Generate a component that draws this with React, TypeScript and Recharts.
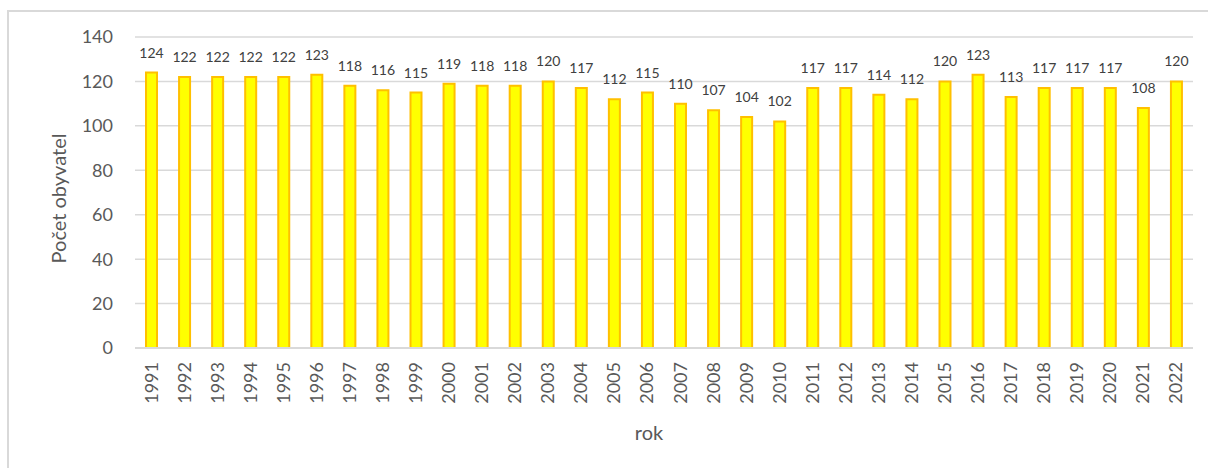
import React from 'react';
import { BarChart, Bar, XAxis, YAxis, CartesianGrid, LabelList, Label } from 'recharts';

const years = ['1991','1992','1993','1994','1995','1996','1997','1998','1999','2000','2001','2002','2003','2004','2005','2006','2007','2008','2009','2010','2011','2012','2013','2014','2015','2016','2017','2018','2019','2020','2021','2022'];
const population = [124,122,122,122,122,123,118,116,115,119,118,118,120,117,112,115,110,107,104,102,117,117,114,112,120,123,113,117,117,117,108,120];
const yTicks = [0, 20, 40, 60, 80, 100, 120, 140];
const yTitle = 'Počet obyvatel';
const xTitle = 'rok';

const data = years.map((y, i) => ({ year: y, value: population[i] }));

const FONT = 'Lato, "Open Sans", sans-serif';

const XTick = (props: any) => {
  const { x, y, payload } = props;
  return (
    <g transform={`translate(${x},${y + 6})`}>
      <text transform="rotate(-90)" textAnchor="end" dy={6} fill="#595959" fontSize={18} fontFamily={FONT}>
        {payload.value}
      </text>
    </g>
  );
};

export default function App() {
  return (
    <div style={{ position: 'relative', width: 1208, height: 468, background: '#fff', overflow: 'hidden' }}>
      <style>{`html,body{margin:0;padding:0;overflow:hidden;background:#fff}`}</style>
      <div style={{ position: 'absolute', left: 7, top: 10, width: 2, height: 458, background: '#d9d9d9' }} />
      <div style={{ position: 'absolute', left: 7, top: 10, width: 1201, height: 2, background: '#d9d9d9' }} />
      <div style={{ position: 'absolute', left: 0, top: 0 }}>
        <BarChart width={1208} height={468} data={data} margin={{ top: 37, right: 15, left: 0, bottom: 0 }} barCategoryGap={0}>
          <CartesianGrid vertical={false} stroke="#d9d9d9" strokeWidth={1.5} />
          <XAxis dataKey="year" interval={0} height={120} tickLine={false} axisLine={{ stroke: '#d9d9d9', strokeWidth: 2 }} tick={<XTick />}>
            <Label content={({ viewBox }: any) => (
              <text x={viewBox.x + viewBox.width / 2 - 15} y={viewBox.y + 92} textAnchor="middle" fill="#595959" fontSize={20} fontFamily={FONT}>{xTitle}</text>
            )} />
          </XAxis>
          <YAxis width={135} domain={[0, 140]} ticks={yTicks} tickLine={false} axisLine={false} tickMargin={16} tick={{ fill: '#595959', fontSize: 18, fontFamily: FONT }}>
            <Label content={({ viewBox }: any) => {
              const cx = 58;
              const cy = viewBox.y + viewBox.height / 2 + 6;
              return (
                <text x={cx} y={cy} transform={`rotate(-90, ${cx}, ${cy})`} textAnchor="middle" dominantBaseline="central" fill="#595959" fontSize={20} fontFamily={FONT}>{yTitle}</text>
              );
            }} />
          </YAxis>
          <Bar dataKey="value" barSize={11} fill="#FFFF00" stroke="#FFC000" strokeWidth={2} isAnimationActive={false}>
            <LabelList dataKey="value" position="top" offset={15} fill="#404040" fontSize={14} fontFamily={FONT} />
          </Bar>
        </BarChart>
      </div>
    </div>
  );
}
